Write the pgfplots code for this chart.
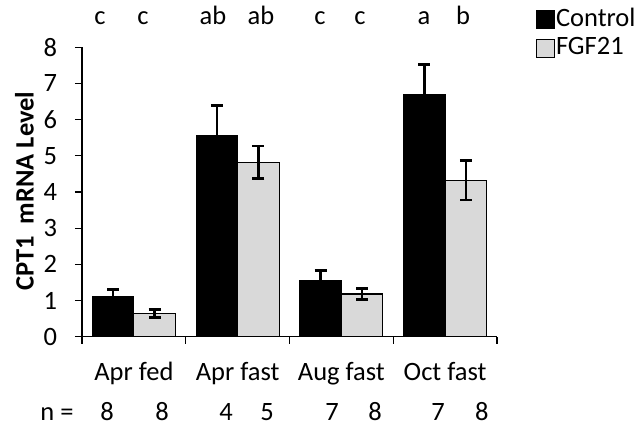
\documentclass[border=0pt]{standalone}
\usepackage{pgfplots}
\pgfplotsset{compat=1.18}
\usepackage{fontspec}
\setmainfont{Carlito}
\definecolor{fgf}{HTML}{D9D9D9}
\newcommand{\fs}{\fontsize{26.5bp}{31bp}\selectfont}
\pgfplotstableread{
x y e
0.5 1.10 0.20
1.5 5.55 0.85
2.5 1.55 0.28
3.5 6.70 0.83
}\ctrl
\pgfplotstableread{
x y e
0.5 0.65 0.11
1.5 4.82 0.45
2.5 1.18 0.15
3.5 4.32 0.54
}\fgfdata
\begin{document}
\fs
\begin{tikzpicture}[font=\fs]
\begin{axis}[
 name=ax,
 scale only axis,
 width=415bp, height=289.4bp,
 xmin=0, xmax=4, ymin=0, ymax=8,
 axis lines*=left,
 axis line style={line width=1.2bp, black},
 ytick={0,...,8},
 xtick={0,1,2,3,4},
 xticklabels={},
 tick style={line width=1.2bp, black},
 tick align=outside,
 major tick length=7bp,
 yticklabel style={font=\fs, xshift=-9bp},
 /pgf/number format/assume math mode=true,
 every axis y label/.style={at={(axis description cs:-0.139,0.503)}, rotate=90, anchor=center, font=\fs\bfseries},
 ylabel={CPT1\ \ mRNA Level},
 ybar=0pt, bar width=41.5bp,
 clip=false,
 legend cell align=left,
 legend style={draw=none, fill=none, at={(1.094,1.14)}, anchor=north west, inner sep=0pt,
   font=\fs, row sep=5bp, nodes={inner sep=1bp},
   /tikz/every even column/.append style={column sep=5bp}},
]
\addplot[fill=black, draw=black, line width=1.2bp,
  legend image code/.code={\draw[fill=black,draw=black,line width=0.8bp] (0bp,-9bp) rectangle (18bp,9bp);},
  error bars/.cd, y dir=both, y explicit,
  error bar style={line width=2.6bp, black},
  error mark options={rotate=90, mark size=6bp, line width=2.8bp, black}]
  table[x=x, y=y, y error=e] {\ctrl};
\addlegendentry{Control}
\addplot[fill=fgf, draw=black, line width=1.2bp,
  legend image code/.code={\draw[fill=fgf,draw=black,line width=0.8bp] (0bp,-9bp) rectangle (18bp,9bp);},
  error bars/.cd, y dir=both, y explicit,
  error bar style={line width=2.6bp, black},
  error mark options={rotate=90, mark size=6bp, line width=2.8bp, black}]
  table[x=x, y=y, y error=e] {\fgfdata};
\addlegendentry{FGF21}
% significance letters
\node[anchor=base] at (axis cs:0.173,8.644) {c};
\node[anchor=base] at (axis cs:0.588,8.644) {c};
\node[anchor=base] at (axis cs:1.263,8.644) {ab};
\node[anchor=base] at (axis cs:1.725,8.644) {ab};
\node[anchor=base] at (axis cs:2.294,8.644) {c};
\node[anchor=base] at (axis cs:2.680,8.644) {c};
\node[anchor=base] at (axis cs:3.296,8.644) {a};
\node[anchor=base] at (axis cs:3.672,8.644) {b};
% category labels
\node[anchor=base, yshift=-44bp] at (axis cs:0.5,0) {Apr fed};
\node[anchor=base, yshift=-44bp] at (axis cs:1.5,0) {Apr fast};
\node[anchor=base, yshift=-44bp] at (axis cs:2.5,0) {Aug fast};
\node[anchor=base, yshift=-44bp] at (axis cs:3.5,0) {Oct fast};
% n row
\node[anchor=base, yshift=-84bp] at (axis cs:-0.241,0) {n =};
\node[anchor=base, yshift=-84bp] at (axis cs:0.241,0) {8};
\node[anchor=base, yshift=-84bp] at (axis cs:0.771,0) {8};
\node[anchor=base, yshift=-84bp] at (axis cs:1.388,0) {4};
\node[anchor=base, yshift=-84bp] at (axis cs:1.783,0) {5};
\node[anchor=base, yshift=-84bp] at (axis cs:2.410,0) {7};
\node[anchor=base, yshift=-84bp] at (axis cs:2.824,0) {8};
\node[anchor=base, yshift=-84bp] at (axis cs:3.431,0) {7};
\node[anchor=base, yshift=-84bp] at (axis cs:3.855,0) {8};
\end{axis}
\pgfresetboundingbox
\path[use as bounding box] ([shift={(-82bp,-90.3bp)}]ax.south west) rectangle ([shift={(561bp,336.7bp)}]ax.south west);
\end{tikzpicture}
\end{document}
